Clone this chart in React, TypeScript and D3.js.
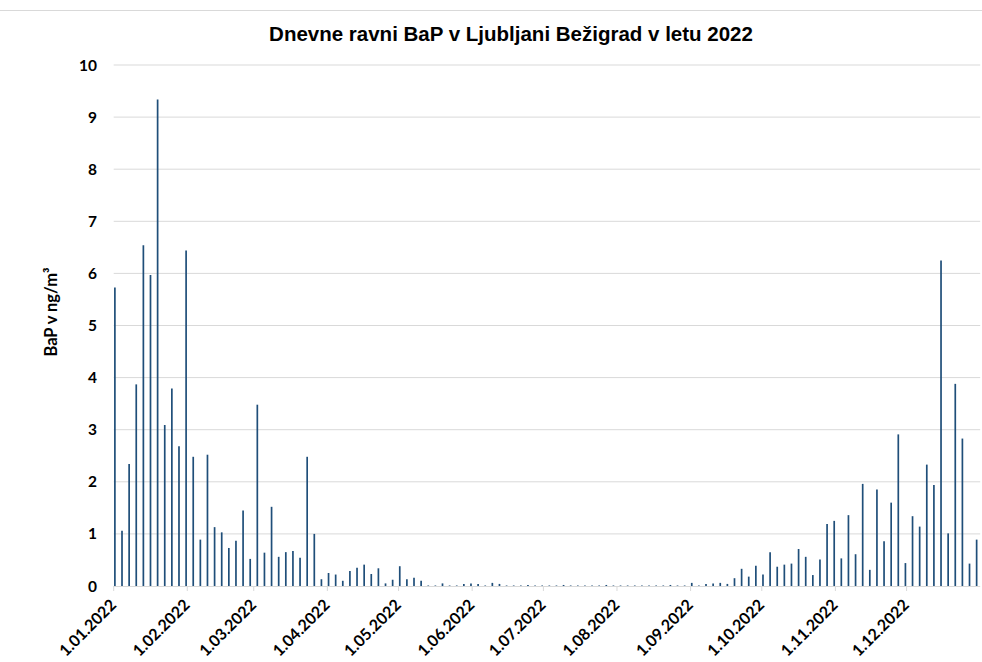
import React from "react";
import * as d3 from "d3";

const TITLE = "Dnevne ravni BaP v Ljubljani Bežigrad v letu 2022";
const Y_TITLE = "BaP v ng/m³";
const START_DATE = new Date(2022, 0, 1);
const END_DATE = new Date(2023, 0, 1);
const STEP_DAYS = 3;
const Y_TICKS = [0, 1, 2, 3, 4, 5, 6, 7, 8, 9, 10];

// BaP values, one sample every third day starting 1.01.2022
const BAP_VALUES = [
  5.73, 1.06, 2.34, 3.87, 6.54, 5.97, 9.34, 3.09, 3.79, 2.68,
  6.44, 2.48, 0.89, 2.52, 1.13, 1.03, 0.73, 0.87, 1.45, 0.52,
  3.48, 0.64, 1.52, 0.56, 0.65, 0.67, 0.54, 2.48, 1.0, 0.13,
  0.25, 0.22, 0.1, 0.29, 0.35, 0.41, 0.23, 0.34, 0.05, 0.12,
  0.38, 0.13, 0.16, 0.1, 0.01, 0.01, 0.05, 0.01, 0.01, 0.04,
  0.05, 0.04, 0.01, 0.06, 0.04, 0.01, 0.01, 0.01, 0.02, 0.01,
  0.01, 0.01, 0.01, 0.02, 0.01, 0.01, 0.01, 0.01, 0.01, 0.02,
  0.01, 0.01, 0.01, 0.01, 0.01, 0.01, 0.01, 0.01, 0.02, 0.01,
  0.01, 0.06, 0.01, 0.04, 0.05, 0.06, 0.04, 0.15, 0.33, 0.18,
  0.39, 0.22, 0.65, 0.37, 0.41, 0.43, 0.71, 0.56, 0.21, 0.51,
  1.19, 1.25, 0.53, 1.36, 0.61, 1.96, 0.31, 1.85, 0.86, 1.6,
  2.91, 0.44, 1.34, 1.14, 2.33, 1.94, 6.25, 1.01, 3.88, 2.83,
  0.43, 0.89,
];

const SAMPLE_DATES = d3.timeDay.range(START_DATE, END_DATE, STEP_DAYS);
const MONTH_TICKS = d3.timeMonth.range(START_DATE, END_DATE);

const W = 982;
const H = 662;
const X0 = 113.7;
const X1 = 980.2;
const Y0 = 586;
const Y1 = 65;

const fmt = d3.timeFormat("%-d.%m.%Y");
const LABEL_FONT = "Lato, 'Open Sans', 'DejaVu Sans', sans-serif";

export default function App() {
  const x = d3.scaleTime().domain([START_DATE, END_DATE]).range([X0, X1]);
  const y = d3.scaleLinear().domain([0, 10]).range([Y0, Y1]);
  const half = 12 * 3600 * 1000;

  return (
    <svg
      width={W}
      height={H}
      style={{ position: "absolute", left: 0, top: 0, background: "#fff" }}
    >
      <rect x={0} y={0} width={W} height={H} fill="#fff" />
      <line x1={0} x2={W} y1={10.5} y2={10.5} stroke="#d9d9d9" strokeWidth={1} />
      <text
        x={511}
        y={41}
        textAnchor="middle"
        fontFamily="'Liberation Sans', Arial, sans-serif"
        fontWeight="bold"
        fontSize={20.5}
        fill="#000"
      >
        {TITLE}
      </text>
      {Y_TICKS.map((t) => (
        <g key={t}>
          {t > 0 && (
            <line x1={X0} x2={X1} y1={y(t)} y2={y(t)} stroke="#d9d9d9" strokeWidth={1} />
          )}
          <text
            x={97}
            y={y(t)}
            dy="0.36em"
            textAnchor="end"
            fontFamily={LABEL_FONT}
            fontWeight="bold"
            fontSize={15.5}
            fill="#000"
          >
            {t}
          </text>
        </g>
      ))}
      <text
        transform={`translate(57,312) rotate(-90)`}
        textAnchor="middle"
        fontFamily={LABEL_FONT}
        fontWeight="bold"
        fontSize={16.5}
        fill="#000"
      >
        {Y_TITLE}
      </text>
      {BAP_VALUES.map((v, i) => {
        const d = SAMPLE_DATES[i];
        const bx = x(new Date(d.getTime() + half));
        return (
          <line
            key={i}
            x1={bx}
            x2={bx}
            y1={Y0}
            y2={y(v)}
            stroke="#1f4e79"
            strokeWidth={1.7}
          />
        );
      })}
      <line x1={X0} x2={X1} y1={Y0 + 0.5} y2={Y0 + 0.5} stroke="#d9d9d9" strokeWidth={1} />
      {MONTH_TICKS.map((m) => {
        const tx = x(m);
        return (
          <g key={m.getTime()}>
            <line x1={tx} x2={tx} y1={Y0} y2={Y0 + 5} stroke="#d9d9d9" strokeWidth={1} />
            <text
              transform={`translate(${tx + 3.5},${Y0 + 20}) rotate(-45)`}
              textAnchor="end"
              fontFamily={LABEL_FONT}
              fontWeight="bold"
              fontSize={16}
              fill="#000"
            >
              {fmt(m)}
            </text>
          </g>
        );
      })}
    </svg>
  );
}
